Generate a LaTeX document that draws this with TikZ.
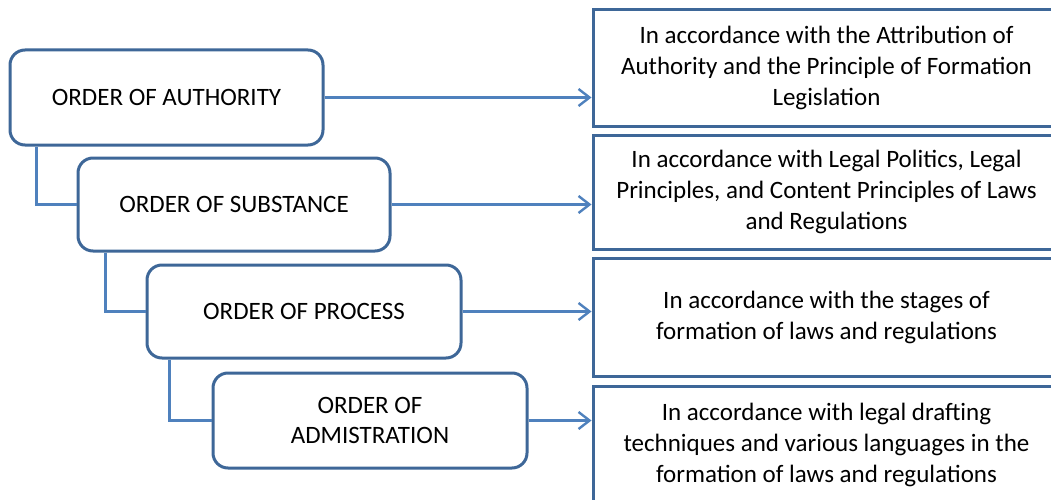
\documentclass[tikz,border=0pt]{standalone}
\usepackage{fontspec}
\setmainfont{Carlito}
\usetikzlibrary{arrows.meta,calc}
\definecolor{boxblue}{RGB}{62,103,152}
\definecolor{linkblue}{RGB}{79,129,189}
\begin{document}
\begin{tikzpicture}[x=1pt,y=-1pt,
  lbox/.style={draw=boxblue,line width=3pt,rounded corners=15pt,fill=white,
    inner sep=0pt,align=center,font=\fontsize{25}{30}\selectfont},
  rbox/.style={draw=boxblue,line width=3pt,fill=white,inner sep=0pt,
    minimum width=467pt,align=center,font=\fontsize{25}{31}\selectfont},
  tree/.style={draw=linkblue,line width=3.4pt},
  link/.style={draw=linkblue,line width=2.4pt,-{Straight Barb[length=11pt,width=17pt,line width=2.4pt]}}]
\useasboundingbox (0,0) rectangle (1051,500);
% left boxes
\node[lbox,minimum width=313pt,minimum height=95pt] (b1) at (166.5,97.5) {ORDER OF AUTHORITY};
\node[lbox,minimum width=312pt,minimum height=93pt] (b2) at (234,204.5) {ORDER OF SUBSTANCE};
\node[lbox,minimum width=314pt,minimum height=93pt] (b3) at (304,311.5) {ORDER OF PROCESS};
\node[lbox,minimum width=314pt,minimum height=95pt] (b4) at (370,420.5) {ORDER OF\\ADMISTRATION};
% right boxes
\node[rbox,minimum height=116pt] (r1) at (826.5,68) {In accordance with the Attribution of\\Authority and the Principle of Formation\\Legislation};
\node[rbox,minimum height=114pt] (r2) at (826.5,192) {In accordance with Legal Politics, Legal\\Principles, and Content Principles of Laws\\and Regulations};
\node[rbox,minimum height=118pt] (r3) at (826.5,317) {In accordance with the stages of\\formation of laws and regulations};
\node[rbox,minimum height=118pt] (r4) at (826.5,445) {In accordance with legal drafting\\techniques and various languages in the\\formation of laws and regulations};
% tree connectors
\draw[tree] ($(b1.south west)+(28,0)$) |- (b2.west);
\draw[tree] ($(b2.south west)+(29,0)$) |- (b3.west);
\draw[tree] ($(b3.south west)+(24,0)$) |- (b4.west);
% arrows
\draw[link] (b1.east) -- (b1.east -| r1.west);
\draw[link] (b2.east) -- (b2.east -| r2.west);
\draw[link] (b3.east) -- (b3.east -| r3.west);
\draw[link] (b4.east) -- (b4.east -| r4.west);
\end{tikzpicture}
\end{document}
